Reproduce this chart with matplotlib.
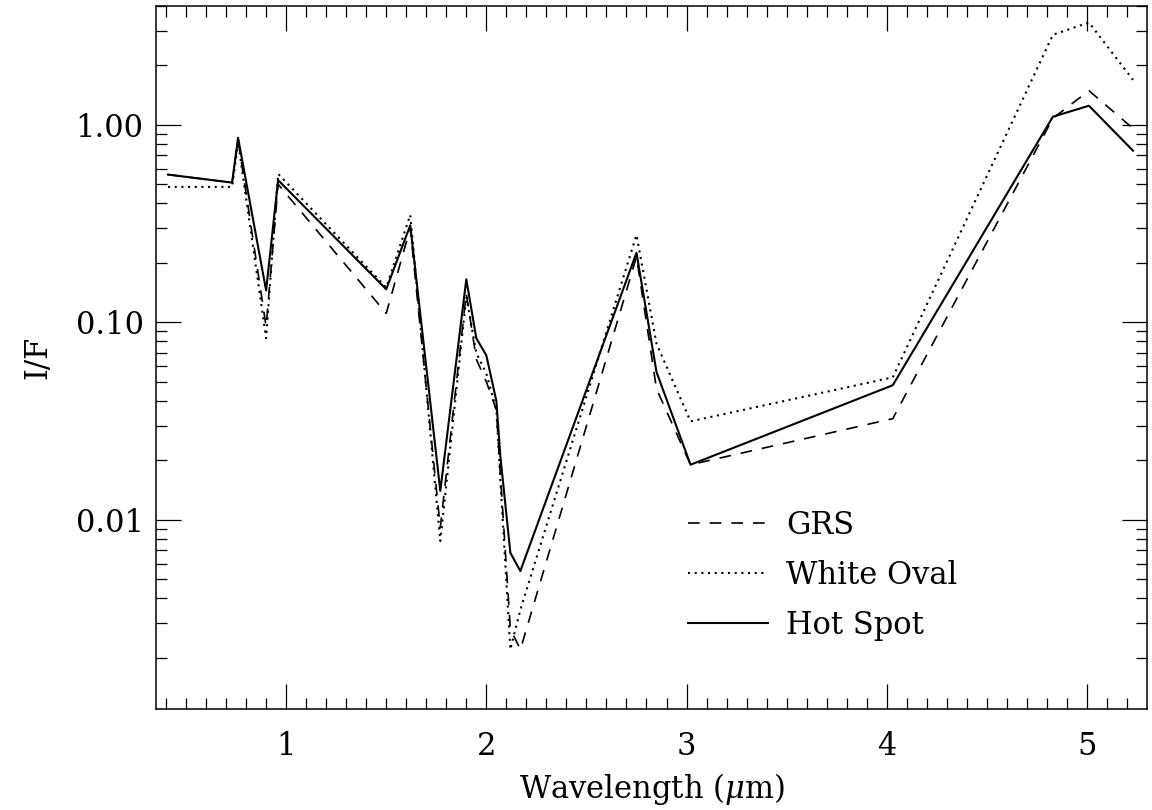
import numpy as np
import matplotlib
matplotlib.use('Agg')
import matplotlib.pyplot as plt
from matplotlib.ticker import FixedLocator, LogLocator, NullFormatter, FuncFormatter

plt.rcParams['font.family'] = 'DejaVu Serif'
plt.rcParams['mathtext.fontset'] = 'dejavuserif'

# длины волн (мкм), общая сетка для трёх спектров
wavelength = [0.41, 0.73, 0.76, 0.90, 0.96, 1.50, 1.62, 1.77, 1.90, 1.95, 2.00,
              2.05, 2.07, 2.12, 2.17, 2.75, 2.85, 3.02, 4.03, 4.83, 5.01, 5.23]

# I/F для каждой области
grs = [0.56, 0.51, 0.84, 0.095, 0.50, 0.111, 0.30, 0.0091, 0.14, 0.065, 0.050,
       0.036, 0.017, 0.0028, 0.0022, 0.215, 0.046, 0.019, 0.0325, 1.08, 1.49, 0.96]
white_oval = [0.485, 0.485, 0.82, 0.083, 0.565, 0.15, 0.35, 0.0078, 0.135, 0.070, 0.055,
              0.036, 0.016, 0.0022, 0.0035, 0.277, 0.078, 0.0315, 0.0526, 2.86, 3.30, 1.69]
hot_spot = [0.56, 0.51, 0.86, 0.145, 0.525, 0.147, 0.31, 0.014, 0.165, 0.083, 0.068,
            0.040, 0.021, 0.0068, 0.0055, 0.225, 0.056, 0.019, 0.048, 1.10, 1.25, 0.74]

x_ticks = [1, 2, 3, 4, 5]
y_ticks = [0.01, 0.10, 1.00]

fig = plt.figure(figsize=(11.52, 8.10), dpi=100)
ax = fig.add_axes([156/1152, 1 - 709/810, 991/1152, 703/810])

ax.plot(wavelength, grs, color='black', lw=1.2, linestyle=(0, (7, 6)), label='GRS')
ax.plot(wavelength, white_oval, color='black', lw=1.5, linestyle=(0, (1, 2.2)),
        label='White Oval')
ax.plot(wavelength, hot_spot, color='black', lw=1.5, linestyle='-', label='Hot Spot')

ax.set_yscale('log')
ax.set_xlim(0.35, 5.3)
ax.set_ylim(0.0011, 4.0)

ax.xaxis.set_major_locator(FixedLocator(x_ticks))
ax.xaxis.set_minor_locator(FixedLocator(np.arange(0.4, 5.3, 0.1)))
ax.yaxis.set_major_locator(FixedLocator(y_ticks))
ax.yaxis.set_minor_locator(LogLocator(base=10, subs=np.arange(2, 10)))
ax.yaxis.set_major_formatter(FuncFormatter(lambda v, p: '%.2f' % v))
ax.yaxis.set_minor_formatter(NullFormatter())

ax.tick_params(which='both', direction='in', top=True, right=True, width=0.9,
               labelsize=22, colors='black')
ax.tick_params(which='major', length=18)
ax.tick_params(axis='x', which='major', pad=16)
ax.tick_params(axis='y', which='major', pad=9)
ax.tick_params(which='minor', length=8)
for s in ax.spines.values():
    s.set_linewidth(1.1)

ax.set_xlabel(r'Wavelength ($\mu$m)', fontsize=22, labelpad=6)
ax.set_ylabel('I/F', fontsize=22, labelpad=16)

ax.legend(loc='center left', bbox_to_anchor=(0.537, 0.19), frameon=False,
          fontsize=22, handlelength=2.6, handletextpad=0.6, labelspacing=0.62,
          borderpad=0, borderaxespad=0)

fig.savefig('out.png', dpi=100)
